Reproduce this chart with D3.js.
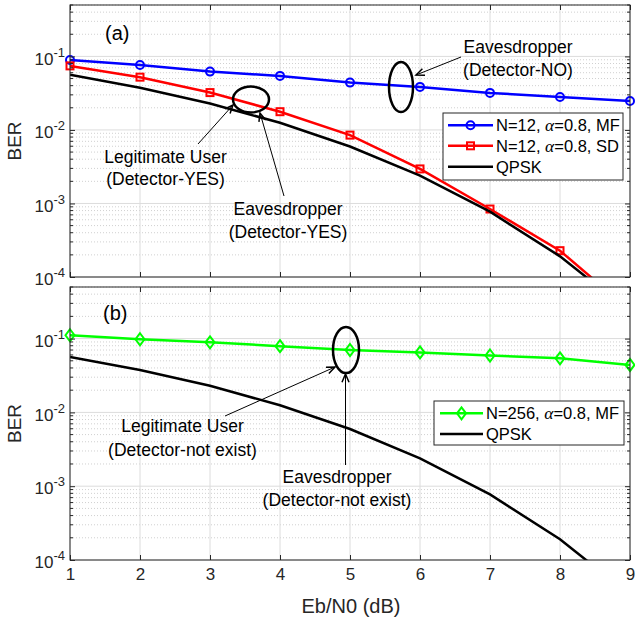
<!DOCTYPE html>
<html><head><meta charset="utf-8">
<script src="https://cdn.jsdelivr.net/npm/d3@7"></script>
<style>
html,body{margin:0;padding:0;background:#fff;}
text{font-family:"Liberation Sans",Arial,Helvetica,sans-serif;}
</style></head>
<body><svg id="c" width="635" height="619"></svg>
<script>
// ---- data ----
const ebn0 = [1,2,3,4,5,6,7,8,9];
const berMF12 = [0.0895,0.0766,0.0621,0.0543,0.044,0.0385,0.0319,0.0281,0.0248];
const berSD12 = [0.0743,0.0522,0.0322,0.0177,0.0085,0.00295,0.00084,0.000228,0.000035];
const berQPSK = [0.0563,0.0375,0.0229,0.0125,0.00595,0.00239,0.000773,0.000191,0.0000336];
const berMF256 = [0.111,0.098,0.089,0.079,0.070,0.065,0.059,0.054,0.0439];
const xTicks = [1,2,3,4,5,6,7,8,9];
const yTicks = [1e-4,1e-3,1e-2,1e-1];
const yTickExp = ["-4","-3","-2","-1"];
const legendA = ["N=12, |α|=0.8, MF","N=12, |α|=0.8, SD","QPSK"];
const legendB = ["N=256, |α|=0.8, MF","QPSK"];

const svg = d3.select("#c");
const axisColor = "#262626";
const x = d3.scaleLinear().domain([1,9]).range([70,630]);
const yDomain = [1e-4,0.5];

function minorVals(){
  const v=[];
  for(let e=-4;e<=-1;e++){for(let m=2;m<=9;m++){const val=m*Math.pow(10,e); if(val<=0.5+1e-12) v.push(val);}}
  return v;
}

function panel(id, top, bottom, series, label){
  const y = d3.scaleLog().domain(yDomain).range([bottom, top]);
  const g = svg.append("g");
  const L=x.range()[0], R=x.range()[1];
  g.append("g").selectAll("line").data(minorVals()).join("line")
    .attr("x1",L).attr("x2",R).attr("y1",d=>y(d)).attr("y2",d=>y(d))
    .attr("stroke","#d0d0d0").attr("stroke-width",1).attr("stroke-dasharray","1,2");
  g.append("g").selectAll("line").data(yTicks).join("line")
    .attr("x1",L).attr("x2",R).attr("y1",d=>y(d)).attr("y2",d=>y(d))
    .attr("stroke","#dcdcdc").attr("stroke-width",1);
  g.append("g").selectAll("line").data(xTicks).join("line")
    .attr("x1",d=>x(d)).attr("x2",d=>x(d)).attr("y1",top).attr("y2",bottom)
    .attr("stroke","#dcdcdc").attr("stroke-width",1);
  svg.append("clipPath").attr("id","clip"+id).append("rect")
    .attr("x",L).attr("y",top).attr("width",R-L).attr("height",bottom-top);
  const line = d3.line().x((d,i)=>x(ebn0[i])).y(d=>y(d));
  series.forEach(s=>{
    g.append("path").datum(s.values).attr("d",line).attr("fill","none")
      .attr("stroke",s.color).attr("stroke-width",2.5).attr("clip-path","url(#clip"+id+")");
    const pts = s.values.map((v,i)=>[ebn0[i],v]).filter(p=>p[1]>=yDomain[0]&&p[1]<=yDomain[1]);
    if(s.marker) drawMarkers(g, pts.map(p=>[x(p[0]),y(p[1])]), s.marker, s.color);
  });
  g.append("rect").attr("x",L).attr("y",top).attr("width",R-L).attr("height",bottom-top)
    .attr("fill","none").attr("stroke",axisColor).attr("stroke-width",1);
  const ax = g.append("g").attr("transform",`translate(${L},0)`)
    .call(d3.axisLeft(y).tickValues(yTicks).tickSizeInner(-5).tickSizeOuter(0).tickPadding(5).tickFormat(""));
  ax.select(".domain").remove();
  ax.selectAll(".tick line").attr("stroke",axisColor);
  ax.selectAll(".tick text").each(function(d,i){
    const t=d3.select(this).attr("fill",axisColor).attr("font-size",17).attr("dy","0.45em");
    t.append("tspan").text("10");
    t.append("tspan").attr("dy",-8).attr("font-size",13).text(yTickExp[i]);
  });
  const axr = g.append("g").attr("transform",`translate(${R},0)`)
    .call(d3.axisRight(y).tickValues(yTicks).tickSizeInner(-5).tickSizeOuter(0).tickFormat(""));
  axr.select(".domain").remove(); axr.selectAll(".tick line").attr("stroke",axisColor);
  const mv=minorVals();
  g.append("g").selectAll("line").data(mv).join("line")
    .attr("x1",L).attr("x2",L+3).attr("y1",d=>y(d)).attr("y2",d=>y(d)).attr("stroke",axisColor);
  g.append("g").selectAll("line").data(mv).join("line")
    .attr("x1",R-3).attr("x2",R).attr("y1",d=>y(d)).attr("y2",d=>y(d)).attr("stroke",axisColor);
  const axb = g.append("g").attr("transform",`translate(0,${bottom})`)
    .call(d3.axisBottom(x).tickValues(xTicks).tickSizeInner(-5).tickSizeOuter(0).tickPadding(8).tickFormat(label?d3.format("d"):""));
  axb.select(".domain").remove(); axb.selectAll(".tick line").attr("stroke",axisColor);
  axb.selectAll(".tick text").attr("fill",axisColor).attr("font-size",17);
  const axt = g.append("g").attr("transform",`translate(0,${top})`)
    .call(d3.axisTop(x).tickValues(xTicks).tickSizeInner(-5).tickSizeOuter(0).tickFormat(""));
  axt.select(".domain").remove(); axt.selectAll(".tick line").attr("stroke",axisColor);
  g.append("text").attr("transform",`translate(21,${(top+bottom)/2}) rotate(-90)`)
    .attr("text-anchor","middle").attr("font-size",19).attr("fill",axisColor).text("BER");
  return {g,y};
}

function drawMarkers(g, pts, type, color){
  pts.forEach(([px,py])=>{
    if(type==="circle") g.append("circle").attr("cx",px).attr("cy",py).attr("r",4)
      .attr("fill","none").attr("stroke",color).attr("stroke-width",2);
    else if(type==="square") g.append("rect").attr("x",px-3.5).attr("y",py-3.5).attr("width",7).attr("height",7)
      .attr("fill","none").attr("stroke",color).attr("stroke-width",2);
    else if(type==="diamond") g.append("path").attr("d",`M${px},${py-6}L${px+4.5},${py}L${px},${py+6}L${px-4.5},${py}Z`)
      .attr("fill","none").attr("stroke",color).attr("stroke-width",2);
  });
}

function legend(g, bx, by, bw, bh, items, rowsY, lx1, lx2, tx){
  g.append("rect").attr("x",bx).attr("y",by).attr("width",bw).attr("height",bh)
    .attr("fill","#fff").attr("stroke",axisColor).attr("stroke-width",1);
  items.forEach((it,i)=>{
    const yy=rowsY[i];
    g.append("line").attr("x1",lx1).attr("x2",lx2).attr("y1",yy).attr("y2",yy)
      .attr("stroke",it.color).attr("stroke-width",2.5);
    if(it.marker) drawMarkers(g,[[ (lx1+lx2)/2, yy]],it.marker,it.color);
    const t=g.append("text").attr("x",tx).attr("y",yy).attr("dy","0.36em").attr("font-size",16.5).attr("fill","#000");
    it.label.split("|").forEach(part=>{
      if(part==="α") t.append("tspan").attr("font-family","'Liberation Serif',serif").attr("font-style","italic").attr("font-size",17.5).text(part);
      else t.append("tspan").text(part);
    });
  });
}

function arrow(g, x1,y1,x2,y2){
  g.append("line").attr("x1",x1).attr("y1",y1).attr("x2",x2).attr("y2",y2).attr("stroke","#000").attr("stroke-width",1);
  const a=Math.atan2(y2-y1,x2-x1), L=9, w=0.4;
  const p1=[x2-L*Math.cos(a-w), y2-L*Math.sin(a-w)], p2=[x2-L*Math.cos(a+w), y2-L*Math.sin(a+w)];
  g.append("path").attr("d",`M${p1[0]},${p1[1]}L${x2},${y2}L${p2[0]},${p2[1]}`)
    .attr("fill","none").attr("stroke","#000").attr("stroke-width",1.5);
}
function ellipse(g,cx,cy,rx,ry){
  g.append("ellipse").attr("cx",cx).attr("cy",cy).attr("rx",rx).attr("ry",ry)
    .attr("fill","none").attr("stroke","#000").attr("stroke-width",2.5);
}
function label2(g,cx,y1,y2,l1,l2){
  g.append("text").attr("x",cx).attr("y",y1).attr("dy","0.36em").attr("text-anchor","middle").attr("font-size",17.5).text(l1);
  g.append("text").attr("x",cx).attr("y",y2).attr("dy","0.36em").attr("text-anchor","middle").attr("font-size",17.5).text(l2);
}

// ---- panel (a) ----
const serA=[
  {values:berMF12,color:"#0000ff",marker:"circle",label:legendA[0]},
  {values:berSD12,color:"#ff0000",marker:"square",label:legendA[1]},
  {values:berQPSK,color:"#000000",marker:null,label:legendA[2]}];
const A = panel("a",5,277,serA,false);
A.g.append("text").attr("x",105).attr("y",33).attr("dy","0.36em").attr("font-size",20).text("(a)");
ellipse(A.g,401,87,12,25);
arrow(A.g,461,57,416,75);
label2(A.g,518,47,70,"Eavesdropper","(Detector-NO)");
ellipse(A.g,251,99.5,18,13);
arrow(A.g,198,144,233,105);
arrow(A.g,284,196,260,113);
label2(A.g,165.5,157,179,"Legitimate User","(Detector-YES)");
label2(A.g,288,209,232,"Eavesdropper","(Detector-YES)");
legend(A.g,443,113,180,67,serA,[125.3,145.8,166.7],448,493,496);

// ---- panel (b) ----
const serB=[
  {values:berMF256,color:"#00ff00",marker:"diamond",label:legendB[0]},
  {values:berQPSK,color:"#000000",marker:null,label:legendB[1]}];
const B = panel("b",287,560,serB,true);
B.g.append("text").attr("x",103).attr("y",313).attr("dy","0.36em").attr("font-size",20).text("(b)");
ellipse(B.g,346,350,13,23);
arrow(B.g,225,416,335,367);
arrow(B.g,345.5,465,345.5,374);
label2(B.g,182.5,426,450,"Legitimate User","(Detector-not exist)");
label2(B.g,337,477,500,"Eavesdropper","(Detector-not exist)");
legend(B.g,434,401,190,44,serB,[413.3,434],440,483,486);

svg.append("text").attr("x",351).attr("y",606).attr("dy","0.36em").attr("text-anchor","middle")
  .attr("font-size",20).attr("fill",axisColor).text("Eb/N0 (dB)");
</script></body></html>
